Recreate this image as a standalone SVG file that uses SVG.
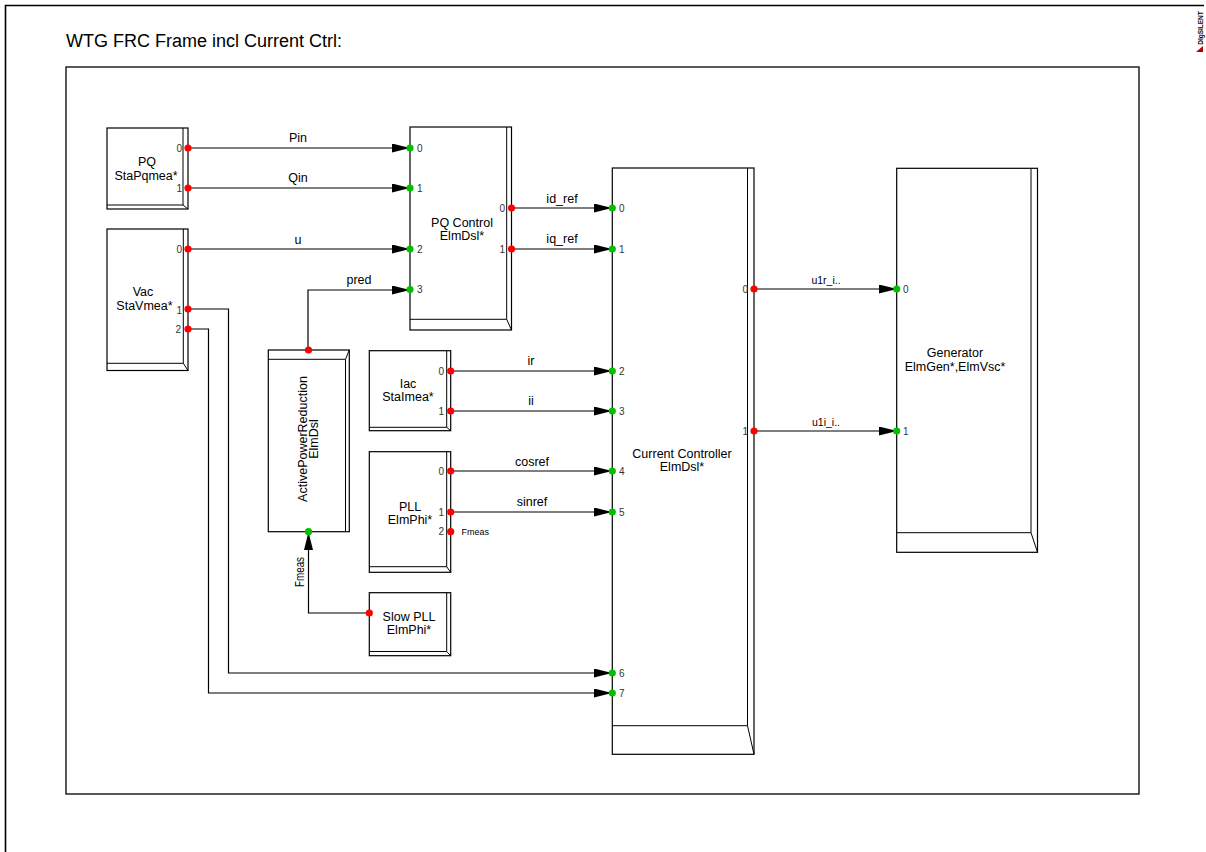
<svg xmlns="http://www.w3.org/2000/svg" width="1206" height="852" viewBox="0 0 1206 852">
<style>
text{font-family:"Liberation Sans",Arial,sans-serif;fill:#000}
.blk{fill:#fff;stroke:#000;stroke-width:1.2}
.ln{fill:none;stroke:#000;stroke-width:1}
.con{fill:none;stroke:#000;stroke-width:1.2}
.bt{font-size:12.5px;text-anchor:middle}
.cl{font-size:12.5px;text-anchor:middle}
.pn{font-size:10px;fill:#333}
.pr{text-anchor:end}
.out{fill:#ff0000}
.in{fill:#00c000}
</style>
<defs>
<marker id="arr" markerUnits="userSpaceOnUse" markerWidth="20" markerHeight="10" refX="18" refY="4.5" orient="auto">
<path d="M0,0 L18,4.5 L0,9 Z" fill="#000"/>
</marker>
</defs>
<rect width="1206" height="852" fill="#fff"/>
<path d="M5.5,852 V5.5 H1204" fill="none" stroke="#000" stroke-width="1.6"/>
<g id="logo">
<text transform="translate(1202.5,28) rotate(-90)" font-size="6.5" font-weight="bold" text-anchor="middle">DIgSILENT</text>
<polygon points="1203,46 1203,52 1196,52" fill="#b00000"/>
</g>
<text x="66" y="46.5" font-size="18">WTG FRC Frame incl Current Ctrl:</text>
<rect x="66" y="67" width="1073" height="727" fill="none" stroke="#000" stroke-width="1.3"/>

<g id="connectors">
<path class="con" d="M188,148 H410" marker-end="url(#arr)"/>
<path class="con" d="M188,188 H410" marker-end="url(#arr)"/>
<path class="con" d="M188,249 H410" marker-end="url(#arr)"/>
<path class="con" d="M308,350 V290 H410" marker-end="url(#arr)"/>
<path class="con" d="M512,208 H612" marker-end="url(#arr)"/>
<path class="con" d="M512,249 H612" marker-end="url(#arr)"/>
<path class="con" d="M451,371 H612" marker-end="url(#arr)"/>
<path class="con" d="M451,411 H612" marker-end="url(#arr)"/>
<path class="con" d="M451,471 H612" marker-end="url(#arr)"/>
<path class="con" d="M451,512 H612" marker-end="url(#arr)"/>
<path class="con" d="M188,309 H228.5 V673 H612" marker-end="url(#arr)"/>
<path class="con" d="M188,329 H208.5 V693 H612" marker-end="url(#arr)"/>
<path class="con" d="M369,613 H308.5 V532" marker-end="url(#arr)"/>
<path class="con" d="M754,289 H897" marker-end="url(#arr)"/>
<path class="con" d="M754,431 H897" marker-end="url(#arr)"/>
<text class="cl" x="298" y="142">Pin</text>
<text class="cl" x="298" y="182">Qin</text>
<text class="cl" x="298" y="244">u</text>
<text class="cl" x="359" y="284">pred</text>
<text class="cl" x="562" y="202.5">id_ref</text>
<text class="cl" x="562" y="243">iq_ref</text>
<text class="cl" x="531" y="365">ir</text>
<text class="cl" x="531" y="405">ii</text>
<text class="cl" x="532" y="466">cosref</text>
<text class="cl" x="532" y="506">sinref</text>
<text x="826" y="284" font-size="10.5" text-anchor="middle">u1r_i..</text>
<text x="826" y="425.5" font-size="10.5" text-anchor="middle">u1i_i..</text>
<text transform="translate(304,572) rotate(-90)" font-size="12.5" text-anchor="middle" textLength="30" lengthAdjust="spacingAndGlyphs">Fmeas</text>
</g>

<g id="pq">
<rect class="blk" x="107" y="128" width="81" height="81"/>
<path class="ln" d="M183,128 V205 H107 M183,205 L188,209"/>
<text class="bt" x="147" y="166">PQ</text>
<text class="bt" x="146" y="179.5">StaPqmea*</text>
<circle class="out" cx="188" cy="148" r="3.6"/>
<circle class="out" cx="188" cy="188" r="3.6"/>
<text class="pn pr" x="182" y="151.5">0</text>
<text class="pn pr" x="182" y="191.5">1</text>
</g>

<g id="vac">
<rect class="blk" x="107" y="229" width="81" height="141.5"/>
<path class="ln" d="M183.3,229 V363.3 H107 M183.3,363.3 L188,370.5"/>
<text class="bt" x="143" y="296">Vac</text>
<text class="bt" x="144.5" y="310">StaVmea*</text>
<circle class="out" cx="188" cy="249" r="3.6"/>
<circle class="out" cx="188" cy="309" r="3.6"/>
<circle class="out" cx="188" cy="329" r="3.6"/>
<text class="pn pr" x="182" y="252.5">0</text>
<text class="pn pr" x="182" y="314">1</text>
<text class="pn pr" x="181" y="332.5">2</text>
</g>

<g id="pqcontrol">
<rect class="blk" x="410" y="127" width="101.5" height="203"/>
<path class="ln" d="M506.7,127 V319.3 H410 M506.7,319.3 L511.5,330"/>
<text class="bt" x="462" y="227">PQ Control</text>
<text class="bt" x="462" y="240">ElmDsl*</text>
<circle class="in" cx="410" cy="148" r="3.6"/>
<circle class="in" cx="410" cy="188" r="3.6"/>
<circle class="in" cx="410" cy="249" r="3.6"/>
<circle class="in" cx="410" cy="289.5" r="3.6"/>
<text class="pn" x="417" y="151.5">0</text>
<text class="pn" x="417" y="191.5">1</text>
<text class="pn" x="417" y="252.5">2</text>
<text class="pn" x="417" y="293">3</text>
<circle class="out" cx="511.5" cy="208" r="3.6"/>
<circle class="out" cx="511.5" cy="249" r="3.6"/>
<text class="pn pr" x="505" y="211.5">0</text>
<text class="pn pr" x="505" y="252.5">1</text>
</g>

<g id="apr">
<rect class="blk" x="268.3" y="350" width="81" height="181.7"/>
<path class="ln" d="M268.3,359.3 H345.5 V531.7 M345.5,359.3 L349.3,350"/>
<text class="bt" transform="translate(307,439) rotate(-90)">ActivePowerReduction</text>
<text class="bt" transform="translate(318,439) rotate(-90)">ElmDsl</text>
<circle class="out" cx="308.5" cy="350" r="3.6"/>
<circle class="in" cx="308.5" cy="531.7" r="3.6"/>
</g>

<g id="iac">
<rect class="blk" x="369.3" y="350.7" width="81.4" height="80"/>
<path class="ln" d="M446.7,350.7 V427.3 H369.3 M446.7,427.3 L450.7,430.7"/>
<text class="bt" x="408" y="387.5">Iac</text>
<text class="bt" x="408" y="401">StaImea*</text>
<circle class="out" cx="450.7" cy="371" r="3.6"/>
<circle class="out" cx="450.7" cy="411" r="3.6"/>
<text class="pn pr" x="444" y="374.5">0</text>
<text class="pn pr" x="444" y="414.5">1</text>
</g>

<g id="pll">
<rect class="blk" x="369.3" y="451.7" width="81.4" height="120.6"/>
<path class="ln" d="M446.7,451.7 V566.7 H369.3 M446.7,566.7 L450.7,572.3"/>
<text class="bt" x="410" y="510.5">PLL</text>
<text class="bt" x="410" y="523.5">ElmPhi*</text>
<circle class="out" cx="450.7" cy="471" r="3.6"/>
<circle class="out" cx="450.7" cy="512" r="3.6"/>
<circle class="out" cx="450.7" cy="531.7" r="3.6"/>
<text class="pn pr" x="444" y="474.5">0</text>
<text class="pn pr" x="444" y="515.5">1</text>
<text class="pn pr" x="444" y="535">2</text>
<text x="461.5" y="535" font-size="9" fill="#333">Fmeas</text>
</g>

<g id="slowpll">
<rect class="blk" x="369.3" y="592.7" width="81.4" height="63"/>
<path class="ln" d="M446.7,592.7 V651.5 H369.3 M446.7,651.5 L450.7,655.7"/>
<text class="bt" x="409" y="620.5">Slow PLL</text>
<text class="bt" x="409" y="634">ElmPhi*</text>
<circle class="out" cx="369.3" cy="613" r="3.6"/>
</g>

<g id="currentcontroller">
<rect class="blk" x="612.3" y="168" width="141.7" height="586.3"/>
<path class="ln" d="M747.5,168 V725.7 H612.3 M747.5,725.7 L754,754.3"/>
<text class="bt" x="682" y="458">Current Controller</text>
<text class="bt" x="682" y="471">ElmDsl*</text>
<circle class="in" cx="612.3" cy="208" r="3.6"/>
<circle class="in" cx="612.3" cy="249" r="3.6"/>
<circle class="in" cx="612.3" cy="371" r="3.6"/>
<circle class="in" cx="612.3" cy="411" r="3.6"/>
<circle class="in" cx="612.3" cy="471" r="3.6"/>
<circle class="in" cx="612.3" cy="512" r="3.6"/>
<circle class="in" cx="612.3" cy="673" r="3.6"/>
<circle class="in" cx="612.3" cy="693" r="3.6"/>
<text class="pn" x="619" y="211.5">0</text>
<text class="pn" x="619" y="252.5">1</text>
<text class="pn" x="619" y="374.5">2</text>
<text class="pn" x="619" y="414.5">3</text>
<text class="pn" x="619" y="474.5">4</text>
<text class="pn" x="619" y="515.5">5</text>
<text class="pn" x="619" y="676.5">6</text>
<text class="pn" x="619" y="696.5">7</text>
<circle class="out" cx="754" cy="289" r="3.6"/>
<circle class="out" cx="754" cy="431" r="3.6"/>
<text class="pn pr" x="748" y="292.5">0</text>
<text class="pn pr" x="748" y="434.5">1</text>
</g>

<g id="generator">
<rect class="blk" x="896.7" y="168.3" width="140.8" height="384"/>
<path class="ln" d="M1031,168.3 V532.7 H896.7 M1031,532.7 L1037.5,552.3"/>
<text class="bt" x="955" y="357">Generator</text>
<text class="bt" x="955" y="370.5">ElmGen*,ElmVsc*</text>
<circle class="in" cx="896.7" cy="289" r="3.6"/>
<circle class="in" cx="896.7" cy="431" r="3.6"/>
<text class="pn" x="903" y="292.5">0</text>
<text class="pn" x="903" y="434.5">1</text>
</g>
</svg>
